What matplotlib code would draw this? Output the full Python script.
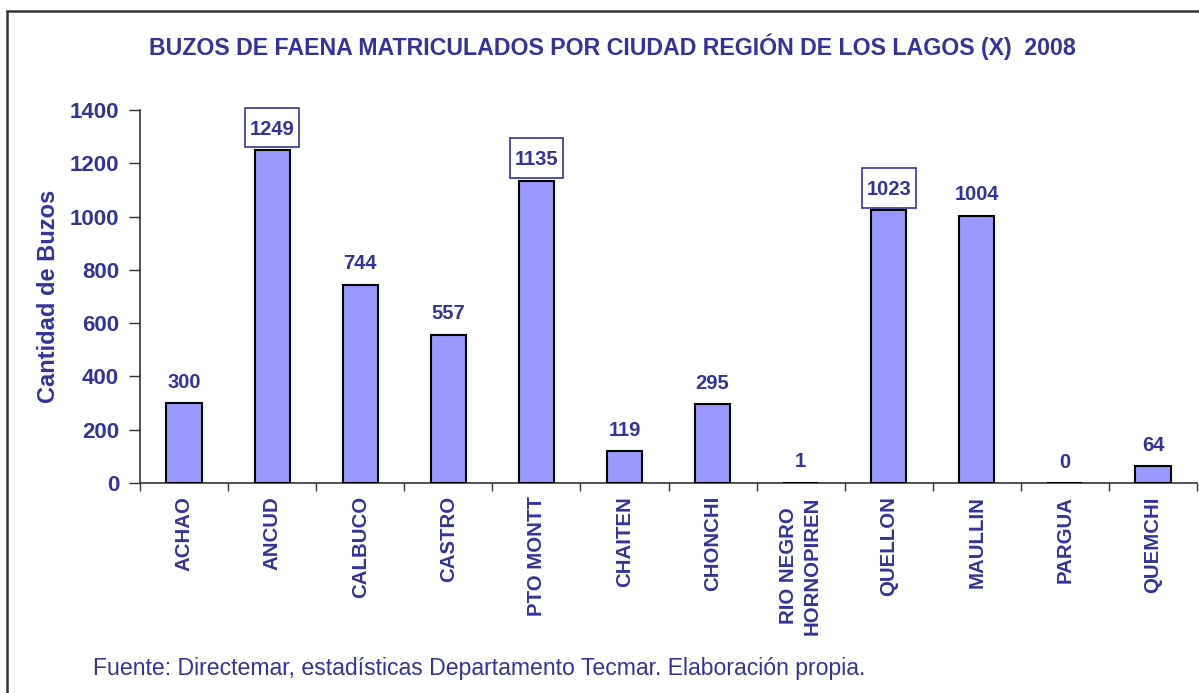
import matplotlib
matplotlib.use("Agg")
import matplotlib.pyplot as plt
from matplotlib.patches import Rectangle
import numpy as np

plt.rcParams['font.family'] = ['Liberation Sans', 'DejaVu Sans']

ciudades = ["ACHAO", "ANCUD", "CALBUCO", "CASTRO", "PTO MONTT", "CHAITEN",
            "CHONCHI", "RIO NEGRO\nHORNOPIREN", "QUELLON", "MAULLIN", "PARGUA", "QUEMCHI"]
buzos = [300, 1249, 744, 557, 1135, 119, 295, 1, 1023, 1004, 0, 64]
destacados = ["ANCUD", "PTO MONTT", "QUELLON"]
yticks = [0, 200, 400, 600, 800, 1000, 1200, 1400]

titulo = "BUZOS DE FAENA MATRICULADOS POR CIUDAD REGIÓN DE LOS LAGOS (X)  2008"
fuente = "Fuente: Directemar, estadísticas Departamento Tecmar. Elaboración propia."

NAVY = "#333399"
W, H = 1199, 693
fig = plt.figure(figsize=(W / 100, H / 100), dpi=100)
ax = fig.add_axes([140 / W, 1 - 483 / H, (1197 - 140) / W, (483 - 110) / H])

x = np.arange(len(ciudades))
ax.bar(x, buzos, width=0.4, color="#9999FF", edgecolor="black", linewidth=1.5, zorder=3)

ax.set_xlim(-0.5, len(ciudades) - 0.5)
ax.set_ylim(0, 1400)
ax.set_yticks(yticks)
ax.set_yticklabels([str(v) for v in yticks], fontsize=16, fontweight="bold", color=NAVY)
ax.tick_params(axis="y", length=8, width=1, pad=7, color="#333333")

ax.set_xticks(x)
ax.set_xticklabels(ciudades, rotation=90, fontsize=14.7, fontweight="bold", color=NAVY,
                   va="top", ha="center", multialignment="center", linespacing=1.3)
ax.tick_params(axis="x", which="major", length=0, pad=9.5)
ax.set_xticks(np.arange(len(ciudades) + 1) - 0.5, minor=True)
ax.tick_params(axis="x", which="minor", length=6, width=1, color="#333333")

for s in ["top", "right"]:
    ax.spines[s].set_visible(False)
for s in ["left", "bottom"]:
    ax.spines[s].set_color("#333333")
    ax.spines[s].set_linewidth(1.2)

etiquetas = []
for xi, (c, v) in enumerate(zip(ciudades, buzos)):
    t = ax.annotate(str(v), (xi, v), xytext=(0, 11), textcoords="offset points",
                    ha="center", va="baseline", fontsize=14.5, fontweight="bold",
                    color=NAVY, zorder=6, annotation_clip=False)
    if c in destacados:
        etiquetas.append(t)

ax.set_ylabel("Cantidad de Buzos", fontsize=17, fontweight="bold", color=NAVY, labelpad=7)

fig.text(612 / W, 1 - 47 / H, titulo, ha="center", va="center", fontsize=16.7,
         fontweight="bold", color=NAVY)
fig.text(93 / W, 1 - 668 / H, fuente, ha="left", va="center", fontsize=16.6, color=NAVY)

fig.add_artist(Rectangle((7 / W, -0.05), 1.2, 1 - 11 / H + 0.05, transform=fig.transFigure,
                         fill=False, ec="#333333", lw=1.8))

# boxes around highlighted value labels
fig.canvas.draw()
inv = fig.transFigure.inverted()
for t in etiquetas:
    bb = t.get_window_extent()
    base = ax.transData.transform(t.xy)[1] + 11 * 100 / 72
    cap = 14.5 * 100 / 72 * 0.72
    x0, x1 = bb.x0 - 4.5, bb.x1 + 4.5
    y0, y1 = base - 12.5, base + cap + 12.5
    fx0, fy0 = inv.transform((x0, y0))
    fx1, fy1 = inv.transform((x1, y1))
    ax.add_patch(Rectangle((fx0, fy0), fx1 - fx0, fy1 - fy0, transform=fig.transFigure,
                           fc="white", ec=NAVY, lw=1.2, zorder=5, clip_on=False))

fig.savefig("out.png", dpi=100)
